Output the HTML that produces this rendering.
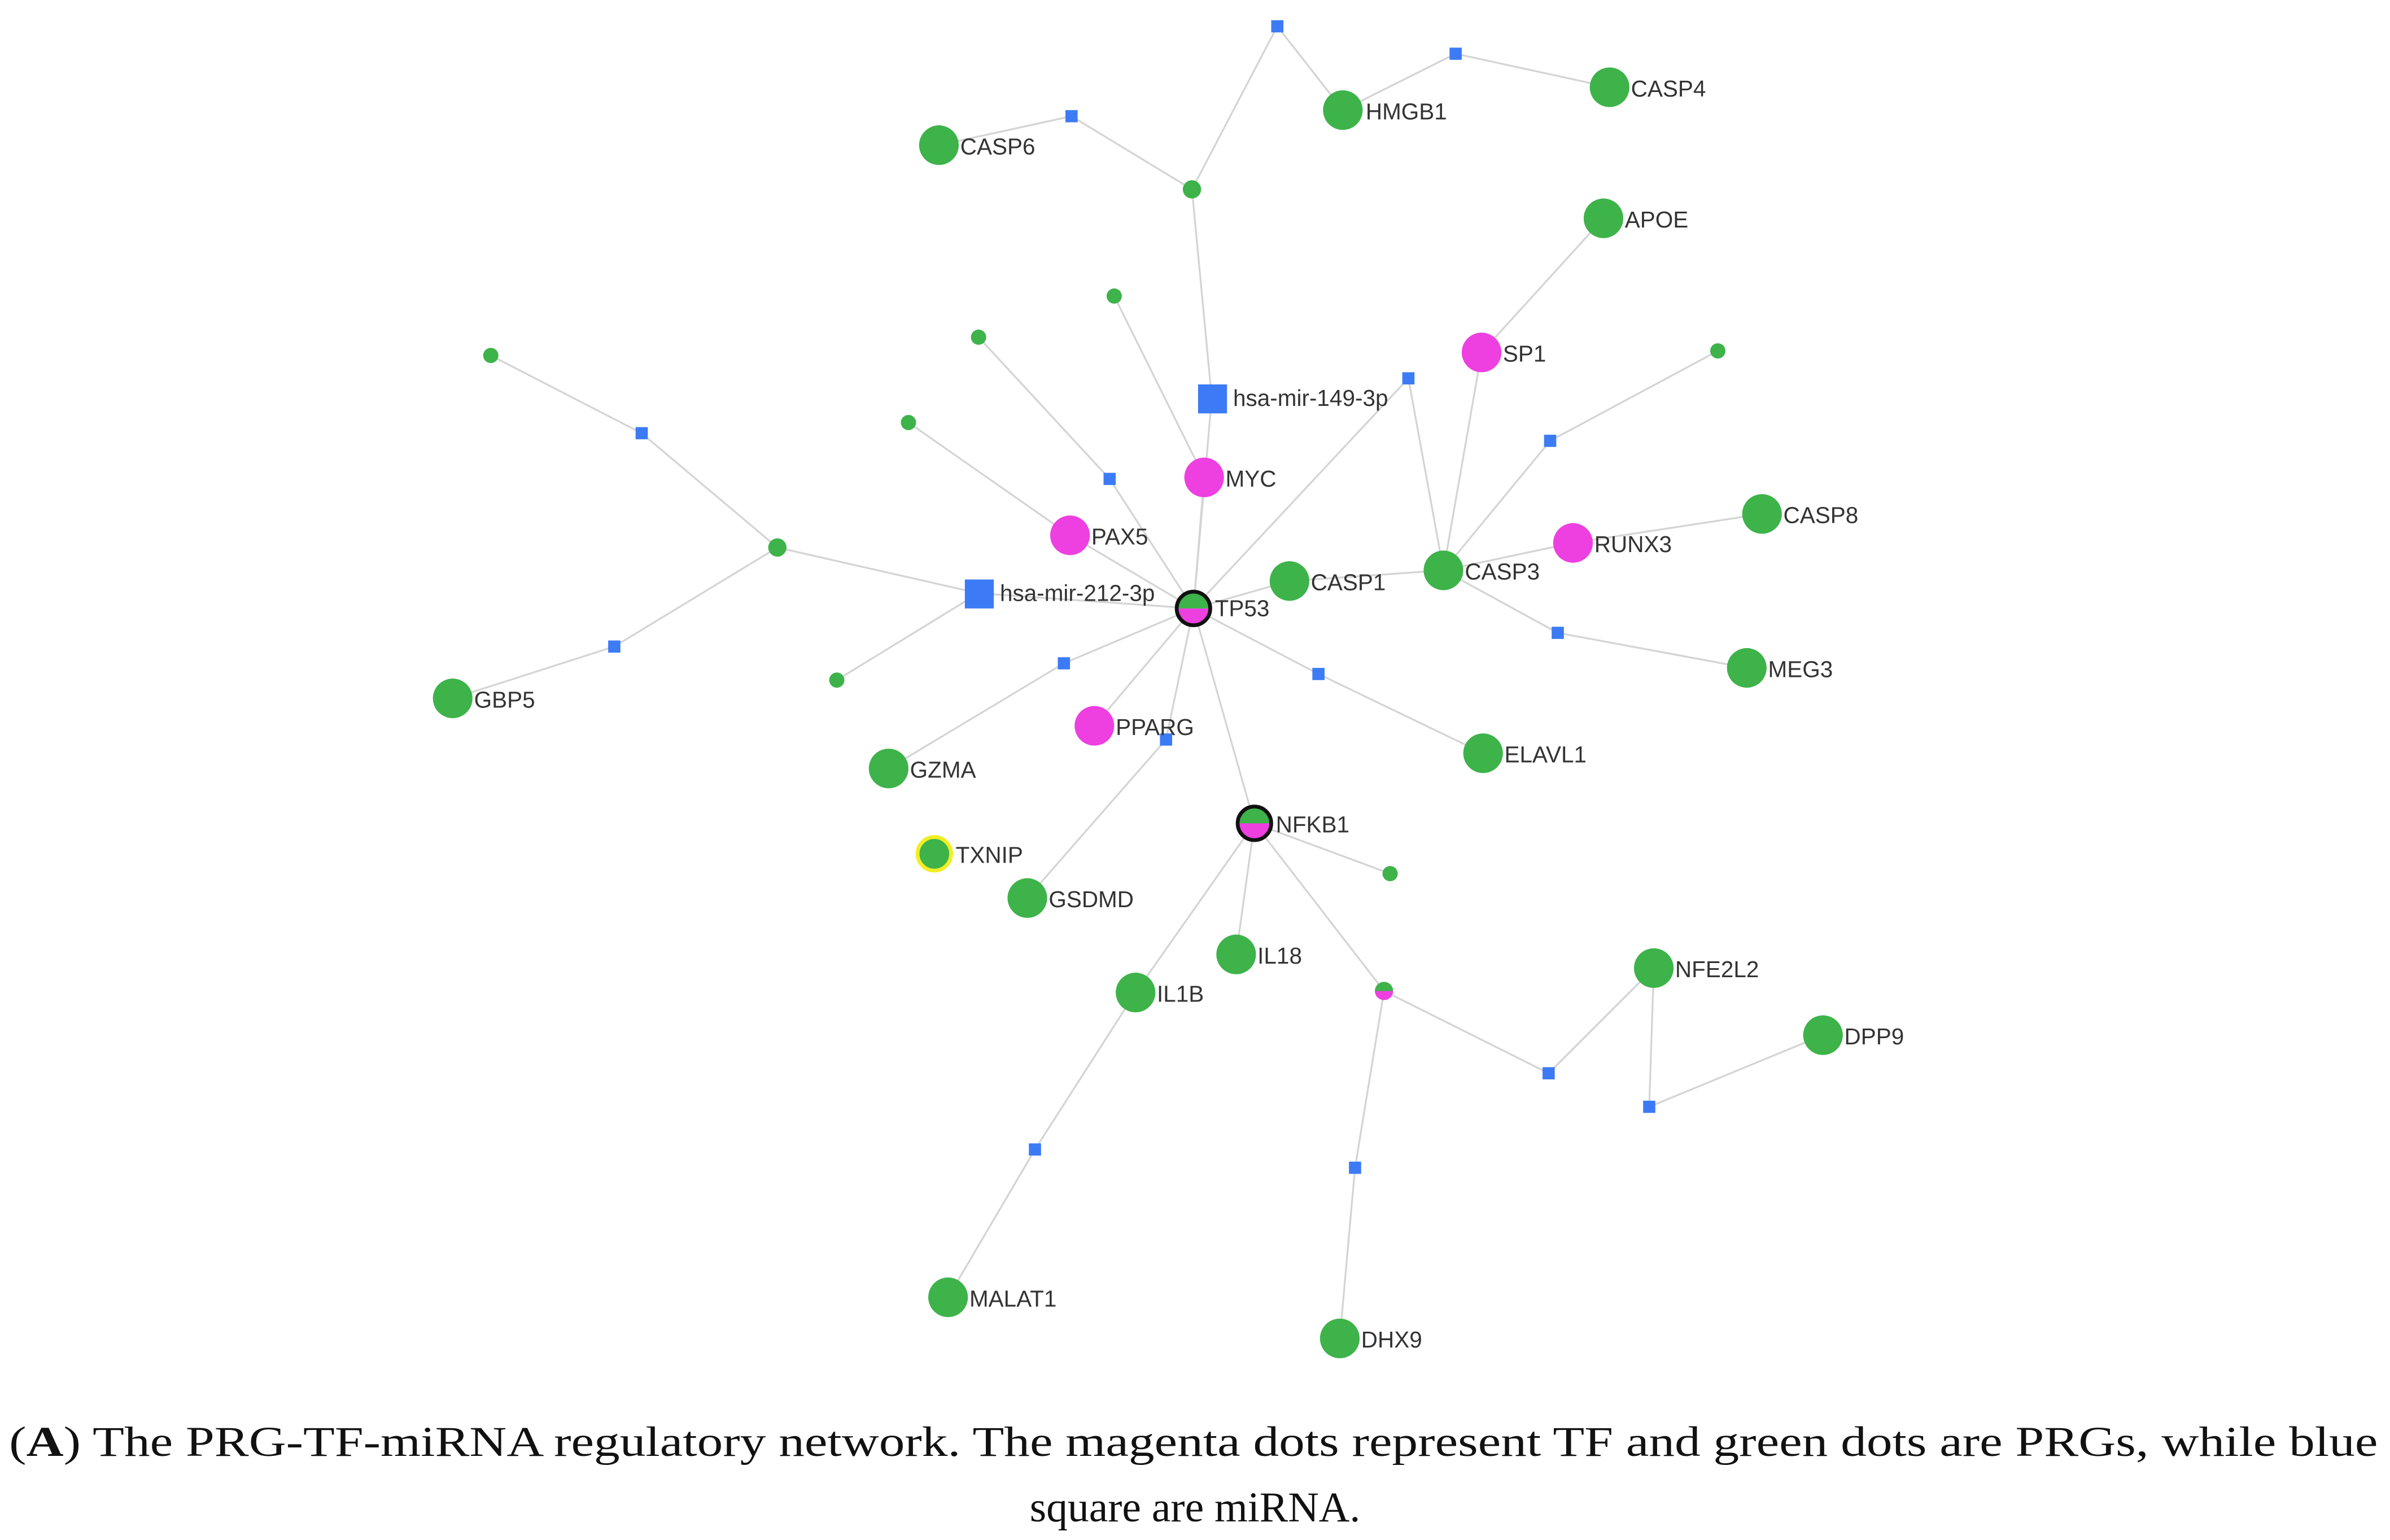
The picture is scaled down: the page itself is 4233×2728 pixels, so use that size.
<!DOCTYPE html>
<html><head><meta charset="utf-8"><style>
html,body{margin:0;padding:0;background:#fff;}
svg{display:block;}
</style></head><body>
<svg width="4233" height="2728" viewBox="0 0 1568 1010" xmlns="http://www.w3.org/2000/svg">
<g stroke="#d4d4d4" stroke-width="1.2" fill="none">
<line x1="838" y1="17" x2="782" y2="124"/><line x1="838" y1="17" x2="881" y2="72"/>
<line x1="881" y1="72" x2="955" y2="35"/><line x1="955" y1="35" x2="1056" y2="57"/>
<line x1="616" y1="95" x2="703" y2="76"/><line x1="703" y1="76" x2="782" y2="124"/>
<line x1="782" y1="124" x2="795" y2="261"/><line x1="795" y1="261" x2="783" y2="399"/>
<line x1="790" y1="313" x2="783" y2="399"/><line x1="731" y1="194" x2="790" y2="313"/>
<line x1="642" y1="221" x2="728" y2="314"/><line x1="728" y1="314" x2="783" y2="399"/>
<line x1="596" y1="277" x2="702" y2="351"/><line x1="702" y1="351" x2="783" y2="399"/>
<line x1="322" y1="233" x2="421" y2="284"/><line x1="421" y1="284" x2="510" y2="359"/>
<line x1="510" y1="359" x2="642" y2="389"/><line x1="510" y1="359" x2="403" y2="424"/>
<line x1="403" y1="424" x2="297" y2="458"/>
<line x1="642" y1="389" x2="783" y2="399"/><line x1="549" y1="446" x2="642" y2="389"/>
<line x1="783" y1="399" x2="924" y2="248"/><line x1="924" y1="248" x2="947" y2="374"/>
<line x1="1052" y1="143" x2="972" y2="231"/><line x1="972" y1="231" x2="947" y2="374"/>
<line x1="1127" y1="230" x2="1017" y2="289"/><line x1="1017" y1="289" x2="947" y2="374"/>
<line x1="947" y1="374" x2="1032" y2="356"/><line x1="1032" y1="356" x2="1156" y2="337"/>
<line x1="947" y1="374" x2="1022" y2="415"/><line x1="1022" y1="415" x2="1146" y2="438"/>
<line x1="783" y1="399" x2="846" y2="381"/><line x1="846" y1="381" x2="947" y2="374"/>
<line x1="783" y1="399" x2="865" y2="442"/><line x1="865" y1="442" x2="973" y2="494"/>
<line x1="783" y1="399" x2="698" y2="435"/><line x1="698" y1="435" x2="583" y2="504"/>
<line x1="783" y1="399" x2="718" y2="476"/>
<line x1="783" y1="399" x2="765" y2="485"/><line x1="765" y1="485" x2="674" y2="589"/>
<line x1="783" y1="399" x2="823" y2="540"/>
<line x1="823" y1="540" x2="912" y2="573"/><line x1="823" y1="540" x2="811" y2="626"/>
<line x1="823" y1="540" x2="745" y2="651"/><line x1="823" y1="540" x2="908" y2="650"/>
<line x1="745" y1="651" x2="679" y2="754"/><line x1="679" y1="754" x2="622" y2="851"/>
<line x1="908" y1="650" x2="889" y2="766"/><line x1="889" y1="766" x2="879" y2="878"/>
<line x1="908" y1="650" x2="1016" y2="704"/><line x1="1016" y1="704" x2="1085" y2="635"/>
<line x1="1085" y1="635" x2="1082" y2="726"/><line x1="1082" y1="726" x2="1196" y2="679"/>
</g>
<g fill="#3c7bf5">
<rect x="834" y="13" width="8" height="8"/><rect x="699" y="72" width="8" height="8"/>
<rect x="951" y="31" width="8" height="8"/><rect x="920" y="244" width="8" height="8"/>
<rect x="1013" y="285" width="8" height="8"/><rect x="724" y="310" width="8" height="8"/>
<rect x="417" y="280" width="8" height="8"/><rect x="399" y="420" width="8" height="8"/>
<rect x="694" y="431" width="8" height="8"/><rect x="861" y="438" width="8" height="8"/>
<rect x="761" y="481" width="8" height="8"/><rect x="1018" y="411" width="8" height="8"/>
<rect x="1012" y="700" width="8" height="8"/><rect x="1078" y="722" width="8" height="8"/>
<rect x="675" y="750" width="8" height="8"/><rect x="885" y="762" width="8" height="8"/>
<rect x="786" y="252" width="19" height="19"/><rect x="633" y="380" width="19" height="19"/>
</g>
<g fill="#3db34a">
<circle cx="782" cy="124" r="6"/><circle cx="322" cy="233" r="5"/><circle cx="510" cy="359" r="6"/>
<circle cx="549" cy="446" r="5"/><circle cx="596" cy="277" r="5"/><circle cx="642" cy="221" r="5"/>
<circle cx="731" cy="194" r="5"/><circle cx="1127" cy="230" r="5"/><circle cx="912" cy="573" r="5"/>
<circle cx="881" cy="72" r="13"/><circle cx="1056" cy="57" r="13"/><circle cx="616" cy="95" r="13"/>
<circle cx="1052" cy="143" r="13"/><circle cx="1156" cy="337" r="13"/><circle cx="1146" cy="438" r="13"/>
<circle cx="973" cy="494" r="13"/><circle cx="297" cy="458" r="13"/><circle cx="583" cy="504" r="13"/>
<circle cx="674" cy="589" r="13"/><circle cx="811" cy="626" r="13"/><circle cx="745" cy="651" r="13"/>
<circle cx="1085" cy="635" r="13"/><circle cx="1196" cy="679" r="13"/><circle cx="622" cy="851" r="13"/>
<circle cx="879" cy="878" r="13"/><circle cx="846" cy="381" r="13"/><circle cx="947" cy="374" r="13"/>
</g>
<circle cx="613" cy="560" r="11" fill="#3db34a" stroke="#f2ee22" stroke-width="2.5"/>
<g fill="#ee3fe0">
<circle cx="790" cy="313" r="13"/><circle cx="702" cy="351" r="13"/><circle cx="718" cy="476" r="13"/>
<circle cx="972" cy="231" r="13"/><circle cx="1032" cy="356" r="13"/>
</g>
<path d="M772 399 A11 11 0 0 1 794 399 Z" fill="#3db34a"/><path d="M772 399 A11 11 0 0 0 794 399 Z" fill="#ee3fe0"/>
<circle cx="783" cy="399" r="11" fill="none" stroke="#111" stroke-width="2.5"/>
<path d="M812 540 A11 11 0 0 1 834 540 Z" fill="#3db34a"/><path d="M812 540 A11 11 0 0 0 834 540 Z" fill="#ee3fe0"/>
<circle cx="823" cy="540" r="11" fill="none" stroke="#111" stroke-width="2.5"/>
<path d="M902 650 A6 6 0 0 1 914 650 Z" fill="#3db34a"/><path d="M902 650 A6 6 0 0 0 914 650 Z" fill="#ee3fe0"/>
<g font-family="Liberation Sans, sans-serif" font-size="15" fill="#333">
<text x="896" y="78">HMGB1</text><text x="1070" y="63">CASP4</text><text x="630" y="101">CASP6</text>
<text x="1066" y="149">APOE</text><text x="986" y="237">SP1</text><text x="809" y="266">hsa-mir-149-3p</text>
<text x="804" y="319">MYC</text><text x="716" y="357">PAX5</text><text x="656" y="394">hsa-mir-212-3p</text>
<text x="797" y="404">TP53</text><text x="860" y="387">CASP1</text><text x="961" y="380">CASP3</text>
<text x="1046" y="362">RUNX3</text><text x="1170" y="343">CASP8</text><text x="1160" y="444">MEG3</text>
<text x="987" y="500">ELAVL1</text><text x="311" y="464">GBP5</text><text x="597" y="510">GZMA</text>
<text x="732" y="482">PPARG</text><text x="627" y="566">TXNIP</text><text x="688" y="595">GSDMD</text>
<text x="837" y="546">NFKB1</text><text x="825" y="632">IL18</text><text x="759" y="657">IL1B</text>
<text x="1099" y="641">NFE2L2</text><text x="1210" y="685">DPP9</text><text x="636" y="857">MALAT1</text>
<text x="893" y="884">DHX9</text>
</g>
<g font-family="Liberation Serif, serif" font-size="28" fill="#111">
<text x="6" y="955" textLength="1554" lengthAdjust="spacingAndGlyphs">(<tspan font-weight="bold">A</tspan>) The PRG-TF-miRNA regulatory network. The magenta dots represent TF and green dots are PRGs, while blue</text>
<text x="784" y="998" text-anchor="middle">square are miRNA.</text>
</g>
</svg>
</body></html>
